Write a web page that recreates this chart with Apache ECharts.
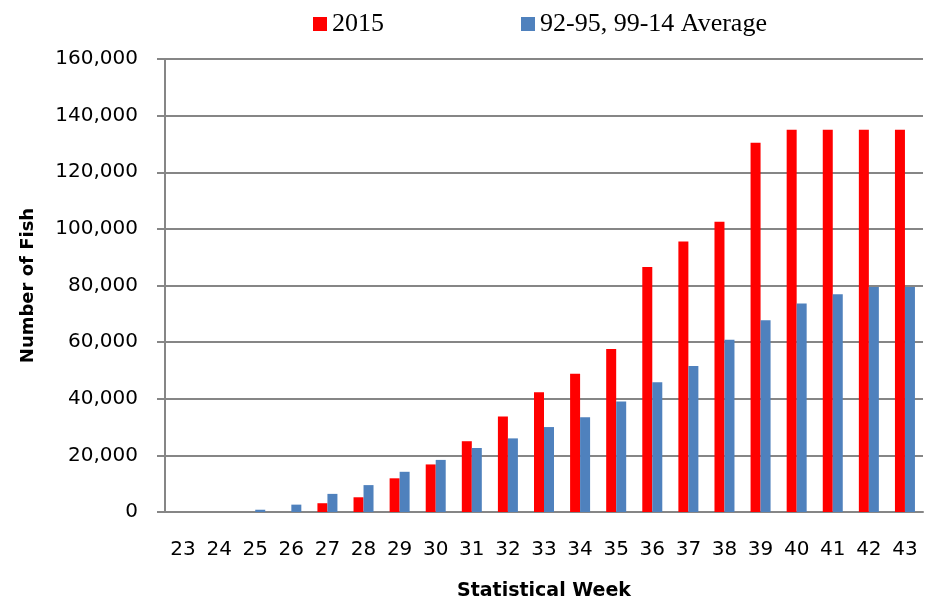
<!DOCTYPE html>
<html>
<head>
<meta charset="utf-8">
<script src="https://cdn.jsdelivr.net/npm/echarts@6/dist/echarts.min.js"></script>
<style>
  html, body { margin: 0; padding: 0; background: #fff; }
  #chart { width: 930px; height: 606px; }
</style>
</head>
<body>
<div id="chart"></div>
<script>
// 统计周
const weeks = ['23', '24', '25', '26', '27', '28', '29', '30', '31', '32', '33',
  '34', '35', '36', '37', '38', '39', '40', '41', '42', '43']
// 2015 累计数量
const fish2015 = [0, 0, 0, 0, 3100, 5200, 11900, 16800, 25000, 33700, 42300,
  48800, 57600, 86500, 95500, 102500, 130400, 135000, 135000, 135000, 135000]
// 92-95, 99-14 平均
const fishAvg = [0, 0, 800, 2600, 6400, 9500, 14200, 18400, 22600, 26000, 30000,
  33500, 39000, 45800, 51600, 60800, 67700, 73600, 76900, 79500, 79500]
const seriesNames = ['2015', '92-95, 99-14 Average']
const yTicks = [0, 20000, 40000, 60000, 80000, 100000, 120000, 140000, 160000]

const chartIns = echarts.init(document.getElementById('chart'))
const axisGray = '#868686'
const option = {
  animation: false,
  legend: {
    data: seriesNames,
    left: 308,
    top: 6,
    itemWidth: 14,
    itemHeight: 14,
    itemGap: 137,
    icon: 'rect',
    textStyle: {
      fontFamily: 'Liberation Serif',
      fontSize: 26,
      color: '#000'
    }
  },
  grid: {
    left: 165,
    right: 7,
    top: 59,
    bottom: 94
  },
  xAxis: {
    type: 'category',
    data: weeks,
    name: 'Statistical Week',
    nameLocation: 'middle',
    nameGap: 70,
    nameTextStyle: {
      fontFamily: 'DejaVu Sans',
      fontWeight: 'bold',
      fontSize: 19,
      color: '#000',
      verticalAlign: 'top'
    },
    axisLine: { lineStyle: { color: axisGray, width: 2 } },
    axisTick: { length: 7, lineStyle: { color: axisGray, width: 2 } },
    axisLabel: {
      margin: 28,
      fontFamily: 'DejaVu Sans',
      fontSize: 20,
      color: '#000'
    }
  },
  yAxis: {
    type: 'value',
    min: yTicks[0],
    max: yTicks[yTicks.length - 1],
    interval: 20000,
    name: 'Number of Fish',
    nameLocation: 'middle',
    nameGap: 128,
    nameTextStyle: {
      fontFamily: 'DejaVu Sans',
      fontWeight: 'bold',
      fontSize: 18,
      color: '#000'
    },
    axisLine: { show: true, lineStyle: { color: axisGray, width: 2 } },
    axisTick: { show: true, length: 8, lineStyle: { color: axisGray, width: 2 } },
    splitLine: { lineStyle: { color: axisGray, width: 2 } },
    axisLabel: {
      margin: 27,
      fontFamily: 'DejaVu Sans',
      fontSize: 20,
      color: '#000',
      formatter: v => v.toLocaleString('en-US')
    }
  },
  series: [
    {
      name: seriesNames[0],
      type: 'bar',
      barWidth: 10,
      barGap: 0,
      itemStyle: { color: '#FF0000' },
      data: fish2015
    },
    {
      name: seriesNames[1],
      type: 'bar',
      barWidth: 10,
      barGap: 0,
      itemStyle: { color: '#4F81BD' },
      data: fishAvg
    }
  ]
}
chartIns.setOption(option)
</script>
</body>
</html>
